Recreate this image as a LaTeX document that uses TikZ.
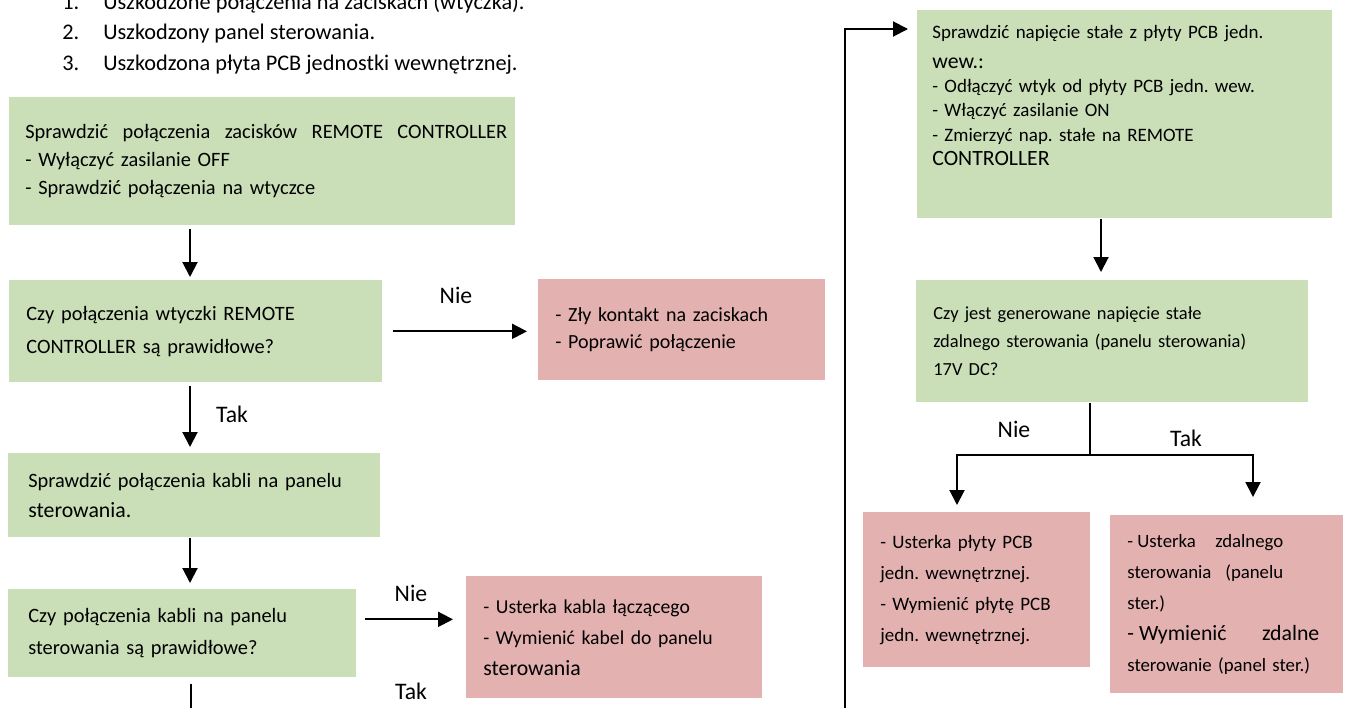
\documentclass[tikz,border=0pt]{standalone}
\usepackage{fontspec}
\setmainfont{Carlito}
\frenchspacing
\usetikzlibrary{arrows.meta}
\definecolor{zielony}{HTML}{CADFB8}
\definecolor{czerwony}{HTML}{E4B1B1}
\newcommand{\wieksza}{\fontsize{12.4pt}{14pt}\selectfont}
\tikzset{
  krok/.style={rectangle, fill=zielony, anchor=north west, inner xsep=0.34cm, inner ysep=0pt, align=left},
  usterka/.style={krok, fill=czerwony},
  strzalka/.style={-{Triangle[width=0.3cm,length=0.3cm]}, line width=0.04cm},
  linia/.style={line width=0.04cm},
  etykieta/.style={font=\fontsize{13.5pt}{15pt}\selectfont, inner sep=0pt}
}
\begin{document}
\begin{tikzpicture}[x=0.02cm, y=-0.02cm]
\useasboundingbox (0,0) rectangle (1365,707);

\node (lista) [anchor=base west, inner sep=0pt, align=left, font=\fontsize{12.7pt}{17.1pt}\selectfont] at (62,70)
  {\makebox[0.82cm][l]{1.}Uszkodzone połączenia na zaciskach (wtyczka).\\
   \makebox[0.82cm][l]{2.}Uszkodzony panel sterowania.\\
   \makebox[0.82cm][l]{3.}Uszkodzona płyta PCB jednostki wewnętrznej.};

\node (sprawdz) [krok, inner xsep=0.32cm, text width=9.48cm, minimum height=2.56cm, font=\fontsize{11.6pt}{16pt}\selectfont] at (9,97)
  {\makebox[9.64cm][l]{Sprawdzić \hfill połączenia \hfill zacisków \hfill REMOTE \hfill CONTROLLER}\\ - Wyłączyć zasilanie OFF\\ - Sprawdzić połączenia na wtyczce};
\node (wtyczka) [krok, text width=6.78cm, minimum height=2.04cm, font=\fontsize{11.6pt}{18.8pt}\selectfont] at (9,280)
  {Czy połączenia wtyczki REMOTE\\ CONTROLLER są prawidłowe?};
\node (kontakt) [usterka, text width=5.06cm, minimum height=2.02cm, font=\fontsize{11.4pt}{15.4pt}\selectfont] at (538,279)
  {- Zły kontakt na zaciskach\\ - Poprawić połączenie};
\node (kable) [krok, inner xsep=0.4cm, text width=6.64cm, minimum height=1.68cm, font=\fontsize{11.6pt}{17pt}\selectfont] at (8,453)
  {\makebox[6.1cm][l]{Sprawdzić \hfill połączenia \hfill kabli \hfill na \hfill panelu}\\ {\wieksza sterowania.}};
\node (pytkable) [krok, inner xsep=0.4cm, text width=6.16cm, minimum height=1.76cm, font=\fontsize{11.6pt}{18.2pt}\selectfont] at (8,589)
  {Czy połączenia kabli na panelu\\ sterowania są prawidłowe?};
\node (kabel) [usterka, text width=5.24cm, minimum height=2.44cm, font=\fontsize{11.2pt}{17.6pt}\selectfont] at (466,576)
  {- Usterka kabla łączącego\\ - Wymienić kabel do panelu\\ {\wieksza sterowania}};

\node (napiecie) [krok, inner xsep=0.3cm, text width=7.7cm, minimum height=4.16cm, font=\fontsize{10.8pt}{13.7pt}\selectfont] at (917,10)
  {Sprawdzić napięcie stałe z płyty PCB jedn.\\[3.4pt] {\wieksza wew.:}\\ - Odłączyć wtyk od płyty PCB jedn. wew.\\ - Włączyć zasilanie ON\\ - Zmierzyć nap. stałe na REMOTE\\ {\wieksza CONTROLLER}\rule[-0.76cm]{0pt}{0.76cm}};
\node (pyt17v) [krok, text width=7.16cm, minimum height=2.44cm, font=\fontsize{10.5pt}{15.8pt}\selectfont] at (916,280)
  {Czy jest generowane napięcie stałe\\ zdalnego sterowania (panelu sterowania)\\ 17V DC?};
\node (plyta) [usterka, text width=3.86cm, minimum height=3.1cm, font=\fontsize{10.8pt}{17.6pt}\selectfont] at (863,512)
  {- Usterka płyty PCB\\ jedn. wewnętrznej.\\ - Wymienić płytę PCB\\ jedn. wewnętrznej.};
\node (pilot) [usterka, text width=3.98cm, minimum height=3.56cm, font=\fontsize{10.7pt}{17.6pt}\selectfont] at (1110,515)
  {\makebox[3.12cm][l]{-\hspace{0.23em}Usterka \hfill zdalnego}\\ \makebox[3.12cm][l]{sterowania \hfill (panelu}\\ ster.)\\ {\wieksza\makebox[3.84cm][l]{-\hspace{0.23em}Wymienić \hfill zdalne}}\\ sterowanie (panel ster.)};

\coordinate (lewa) at (190,0);
\coordinate (dol) at (191,725);
\coordinate (petla) at (845,725);
\coordinate (prawa) at (1101,0);
\coordinate (rozg) at (1090,455);
\coordinate (galnie) at (957,0);
\coordinate (galtak) at (1253,0);

\draw[strzalka, shorten <=0.06cm, shorten >=0.06cm] (sprawdz.south -| lewa) -- (wtyczka.north -| lewa);
\draw[strzalka, shorten <=0.2cm, shorten >=0.22cm] (wtyczka.east) -- (wtyczka.east -| kontakt.west);
\draw[strzalka, shorten <=0.06cm, shorten >=0.12cm] (wtyczka.south -| lewa) -- (kable.north -| lewa);
\draw[strzalka, shorten >=0.12cm] (kable.south -| lewa) -- (pytkable.north -| lewa);
\draw[strzalka, shorten <=0.16cm, shorten >=0.26cm] ([yshift=0.28cm]pytkable.east) -- ([yshift=0.28cm]pytkable.east -| kabel.west);
\draw[linia, shorten <=0.12cm] (pytkable.south -| dol) -- (dol);

\draw[strzalka, shorten >=0.18cm] (petla) |- ([yshift=-0.38cm]napiecie.north west);
\draw[strzalka, shorten >=0.16cm] (napiecie.south -| prawa) -- (pyt17v.north -| prawa);
\draw[linia] (pyt17v.south -| rozg) -- (rozg);
\draw[strzalka, shorten >=0.14cm] (rozg) -| (plyta.north -| galnie);
\draw[strzalka, shorten >=0.36cm] (rozg) -| (pilot.north -| galtak);

\node (nie1) [etykieta] at (456,295) {Nie};
\node (tak1) [etykieta] at (232,414) {Tak};
\node (nie2) [etykieta] at (411,593) {Nie};
\node (tak2) [etykieta] at (411,691) {Tak};
\node (nie3) [etykieta] at (1014,429) {Nie};
\node (tak3) [etykieta] at (1186,438) {Tak};
\end{tikzpicture}
\end{document}
